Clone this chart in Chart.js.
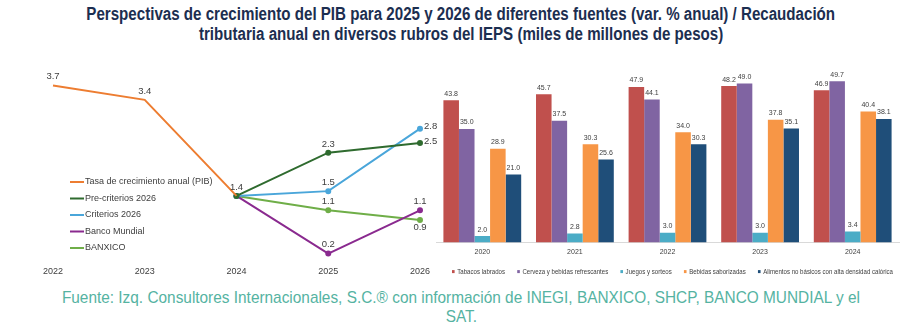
<!DOCTYPE html>
<html><head><meta charset="utf-8">
<script src="https://cdn.jsdelivr.net/npm/chart.js@4.4.1/dist/chart.umd.min.js"></script>
<style>
html,body{margin:0;padding:0;background:#fff;width:922px;height:331px;overflow:hidden;}
.hd{position:absolute;left:0;width:922px;text-align:center;font-family:"Liberation Sans",Arial,sans-serif;white-space:nowrap;}
.hd span{display:inline-block;transform-origin:50% 50%;}
#title{top:5px;font-weight:bold;font-size:18px;line-height:19.5px;color:#1c2e50;}
#title span{transform:scaleX(0.84);}
#foot{top:288px;font-size:17px;line-height:19px;color:#55b3a2;}
#foot span{transform:scaleX(0.905);}
#lw{position:absolute;left:0;top:60px;width:440px;height:223px;}
#rw{position:absolute;left:434px;top:60px;width:488px;height:227px;}
</style></head><body>
<div id="title" class="hd"><span>Perspectivas de crecimiento del PIB para 2025 y 2026 de diferentes fuentes (var. % anual) / Recaudación</span><br><span>tributaria anual en diversos rubros del IEPS (miles de millones de pesos)</span></div>
<div id="lw"><canvas id="left"></canvas></div>
<div id="rw"><canvas id="right"></canvas></div>
<div id="foot" class="hd"><span>Fuente: Izq. Consultores Internacionales, S.C.® con información de INEGI, BANXICO, SHCP, BANCO MUNDIAL y el</span><br><span>SAT.</span></div>
<script>
// ---- Line chart data ----
const years = ["2022","2023","2024","2025","2026"];
const pib = [3.7, 3.4, 1.4, null, null];
const precriterios = [null, null, 1.4, 2.3, 2.5];
const criterios = [null, null, 1.4, 1.5, 2.8];
const bancoMundial = [null, null, 1.4, 0.2, 1.1];
const banxico = [null, null, 1.4, 1.1, 0.9];
const lineNames = ["Tasa de crecimiento anual (PIB)","Pre-criterios 2026","Criterios 2026","Banco Mundial","BANXICO"];

// ---- Bar chart data ----
const barYears = ["2020","2021","2022","2023","2024"];
const tabacos = [43.8, 45.7, 47.9, 48.2, 46.9];
const cerveza = [35.0, 37.5, 44.1, 49.0, 49.7];
const juegos = [2.0, 2.8, 3.0, 3.0, 3.4];
const bebidas = [28.9, 30.3, 34.0, 37.8, 40.4];
const alimentos = [21.0, 25.6, 30.3, 35.1, 38.1];
const barNames = ["Tabacos labrados","Cerveza y bebidas refrescantes","Juegos y sorteos","Bebidas saborizadas","Alimentos no básicos con alta densidad calórica"];

const FONT = "'Liberation Sans', Arial, sans-serif";
const TXT = "#404040";

// label placement per point (style only)
const linePos = [
  ["above","above","above",null,null],
  [null,null,null,"above","right"],
  [null,null,null,"above","right"],
  [null,null,null,"above","above"],
  [null,null,null,"above","below"]
];

const lineLabels = {
  id:'lineLabels',
  afterDatasetsDraw(chart){
    const ctx = chart.ctx;
    ctx.save();
    ctx.font = "9.5px " + FONT;
    ctx.fillStyle = TXT;
    chart.data.datasets.forEach((ds, di) => {
      const meta = chart.getDatasetMeta(di);
      meta.data.forEach((pt, i) => {
        const v = ds.data[i];
        const pos = linePos[di][i];
        if (v == null || !pos) return;
        const t = v.toFixed(1);
        if (pos === "above"){ ctx.textAlign='center'; ctx.textBaseline='bottom'; ctx.fillText(t, pt.x, pt.y - 4); }
        else if (pos === "right"){ ctx.textAlign='left'; ctx.textBaseline='middle'; ctx.fillText(t, pt.x + 4, pt.y - 2); }
        else if (pos === "below"){ ctx.textAlign='center'; ctx.textBaseline='top'; ctx.fillText(t, pt.x, pt.y + 3); }
      });
    });
    // legend inside plot
    const ca = chart.chartArea;
    ctx.font = "9px " + FONT;
    ctx.textAlign = 'left'; ctx.textBaseline = 'middle';
    chart.data.datasets.forEach((ds, di) => {
      const y = ca.top + 111 + di * 16.5;
      const x = ca.left + 17;
      ctx.strokeStyle = ds.borderColor; ctx.lineWidth = 2;
      ctx.beginPath(); ctx.moveTo(x, y); ctx.lineTo(x + 14, y); ctx.stroke();
      ctx.fillStyle = TXT;
      ctx.fillText(ds.label, x + 15, y);
    });
    ctx.restore();
  }
};

const lineColors = ["#ed7d31","#2f6b2f","#4aa6da","#8a2a8f","#6fae48"];
const lineSeries = [pib, precriterios, criterios, bancoMundial, banxico];

new Chart(document.getElementById('left'), {
  type:'line',
  data:{ labels: years,
    datasets: lineSeries.map((d,i)=>({
      label: lineNames[i], data: d, borderColor: lineColors[i], backgroundColor: lineColors[i],
      borderWidth: 2, pointRadius: i===0?0:2, pointHoverRadius:0, tension:0, spanGaps:false
    }))
  },
  options:{
    responsive:true, maintainAspectRatio:false, animation:false,
    layout:{padding:{left:53,right:20,top:11,bottom:3}},
    plugins:{legend:{display:false}, tooltip:{enabled:false}},
    scales:{
      x:{grid:{display:false, drawTicks:false}, border:{display:false}, offset:false,
         ticks:{color:TXT, font:{size:9, family:FONT}, padding:3, maxRotation:0}},
      y:{display:false, min:0, max:4}
    }
  },
  plugins:[lineLabels]
});

const barLabels = {
  id:'barLabels',
  afterDatasetsDraw(chart){
    const ctx = chart.ctx;
    ctx.save();
    ctx.font = "7px " + FONT;
    ctx.fillStyle = TXT;
    ctx.textAlign='center'; ctx.textBaseline='bottom';
    chart.data.datasets.forEach((ds, di) => {
      chart.getDatasetMeta(di).data.forEach((b, i) => {
        ctx.fillText(ds.data[i].toFixed(1), b.x, b.y - 3);
      });
    });
    // custom single-row legend below the axis
    const ca = chart.chartArea;
    ctx.font = "7px " + FONT;
    ctx.textAlign='left'; ctx.textBaseline='middle';
    const gap = 14, box = 3;
    const widths = chart.data.datasets.map(ds => box + 3 + ctx.measureText(ds.label).width);
    const natural = widths.reduce((a,b)=>a+b,0) + gap*(widths.length-1);
    const target = 441;
    const s = Math.min(1, target / natural);
    ctx.translate(ca.left + 16, ca.bottom + 29);
    ctx.scale(s, 1);
    let x = 0;
    chart.data.datasets.forEach((ds, di) => {
      ctx.fillStyle = ds.backgroundColor;
      ctx.fillRect(x, -box/2, box, box);
      ctx.fillStyle = TXT;
      ctx.fillText(ds.label, x + box + 3, 0);
      x += widths[di] + gap;
    });
    ctx.restore();
  }
};

const barColors = ["#c0504d","#8064a2","#4bacc6","#f79646","#1f4e79"];
const barSeries = [tabacos, cerveza, juegos, bebidas, alimentos];

new Chart(document.getElementById('right'), {
  type:'bar',
  data:{ labels: barYears,
    datasets: barSeries.map((d,i)=>({
      label: barNames[i], data: d, backgroundColor: barColors[i], borderWidth:0,
      categoryPercentage:0.84, barPercentage:1.0
    }))
  },
  options:{
    responsive:true, maintainAspectRatio:false, animation:false,
    layout:{padding:{left:2,right:23,top:4,bottom:26}},
    plugins:{ tooltip:{enabled:false}, legend:{display:false} },
    scales:{
      x:{grid:{display:false, drawTicks:false}, border:{display:true, color:'#d9d9d9'},
         ticks:{color:TXT, font:{size:7, family:FONT}, padding:5}},
      y:{display:false, min:0, max:55}
    }
  },
  plugins:[barLabels]
});
</script>
</body></html>
